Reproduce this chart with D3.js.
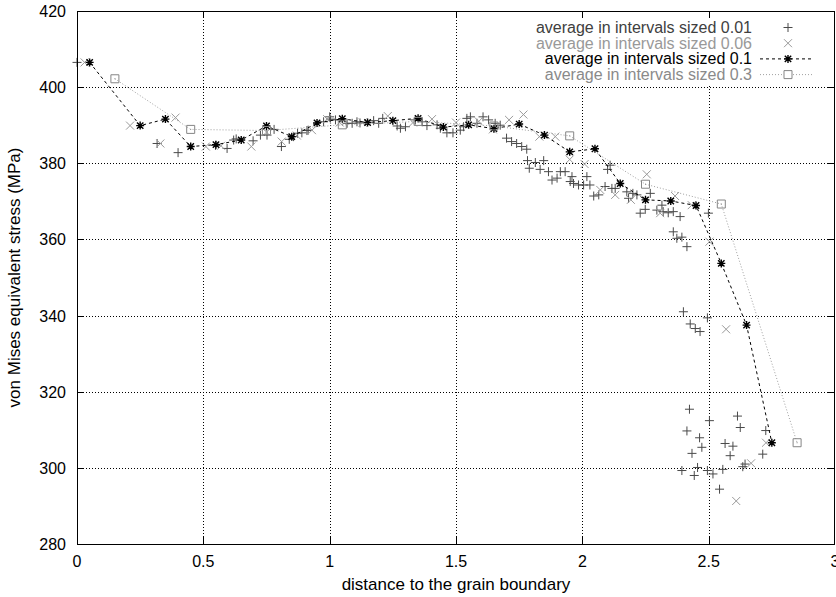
<!DOCTYPE html>
<html>
<head>
<meta charset="utf-8">
<script src="https://cdn.jsdelivr.net/npm/d3@7"></script>
<style>
  body { margin: 0; background: #fff; }
  text { font-family: "Liberation Sans", Arial, Helvetica, sans-serif; }
</style>
</head>
<body>
<div id="chart"></div>
<script>
const X_TICKS = [0, 0.5, 1, 1.5, 2, 2.5, 3];
const Y_TICKS = [280, 300, 320, 340, 360, 380, 400, 420];
const X_LABEL = "distance to the grain boundary";
const Y_LABEL = "von Mises equivalent stress (MPa)";
const SERIES_LABELS = [
  "average in intervals sized 0.01",
  "average in intervals sized 0.06",
  "average in intervals sized 0.1",
  "average in intervals sized 0.3"
];

// [distance, stress]
const PTS_001 = [
  [0.00,406.5],[0.317,385.2],[0.40,382.8],[0.548,384.7],[0.594,383.9],[0.62,386.1],[0.63,386.4],
  [0.697,385.9],[0.726,387.4],[0.752,387.4],[0.78,388.9],[0.809,384.4],[0.84,386.3],[0.857,387.0],
  [0.873,387.9],[0.89,388.0],[0.91,388.6],[0.915,388.7],[0.976,390.9],[1.0,392.2],[1.003,391.6],
  [1.023,391.4],[1.069,390.5],[1.089,390.5],[1.108,390.9],[1.12,390.6],[1.174,391.2],[1.194,390.5],
  [1.21,391.8],[1.267,389.8],[1.28,389.2],[1.30,389.6],[1.339,391.4],[1.366,390.9],[1.385,389.9],
  [1.425,390.1],[1.438,389.2],[1.464,388.0],[1.488,388.0],[1.517,388.7],[1.53,389.6],[1.543,391.8],
  [1.557,392.2],[1.583,390.5],[1.607,392.2],[1.629,391.4],[1.655,390.5],[1.675,390.0],
  [1.70,386.6],[1.72,385.7],[1.74,385.2],[1.76,384.4],[1.78,383.7],[1.783,380.7],[1.79,378.7],
  [1.814,380.2],[1.833,378.4],[1.847,380.7],[1.866,377.8],[1.88,375.6],[1.90,376.1],[1.913,377.8],
  [1.932,377.8],[1.952,375.2],[1.959,376.5],[1.965,374.7],[1.985,374.3],[2.005,374.3],[2.018,376.5],
  [2.03,374.3],[2.045,371.4],[2.065,371.7],[2.09,373.9],[2.10,378.4],[2.11,379.5],[2.117,373.4],
  [2.13,373.4],[2.176,372.5],[2.183,370.8],[2.20,372.1],[2.216,371.7],[2.229,366.9],[2.249,367.9],
  [2.269,372.1],[2.295,367.7],[2.315,369.0],[2.32,367.3],[2.34,367.0],[2.36,367.3],[2.36,362.0],
  [2.374,360.3],[2.387,366.0],[2.394,360.6],[2.414,358.1],[2.40,341.0],[2.427,337.8],[2.447,336.6],
  [2.466,335.8],[2.495,339.4],[2.499,366.9],
  [2.394,299.3],[2.414,309.7],[2.424,315.4],[2.434,303.8],[2.443,298.0],[2.456,300.1],[2.464,307.9],
  [2.473,305.4],[2.495,299.3],[2.503,312.4],[2.517,298.4],[2.543,294.4],[2.556,299.6],[2.565,306.4],
  [2.585,303.2],[2.596,305.7],[2.614,313.6],[2.625,310.6],[2.635,300.3],[2.644,301.0],[2.714,303.6],
  [2.726,309.8]
];

const PTS_006 = [
  [0.03,406.5],[0.21,389.9],[0.33,385.2],[0.39,392.0],[0.51,384.4],[0.57,384.6],[0.69,384.4],
  [0.75,388.2],[0.81,385.7],[0.87,387.3],[0.93,388.7],[0.99,391.6],[1.04,390.7],[1.13,390.7],
  [1.23,392.4],[1.33,390.7],[1.405,391.6],[1.50,390.7],[1.59,391.0],[1.646,388.9],[1.71,391.4],
  [1.767,392.8],[1.83,387.0],[1.893,387.0],[1.95,381.0],[2.009,379.8],[2.071,373.0],[2.13,371.7],
  [2.192,370.4],[2.255,377.1],[2.308,366.9],[2.367,371.4],[2.433,369.0],[2.503,359.4],[2.569,336.4],
  [2.609,291.3],[2.668,301.2],[2.727,306.6]
];

const PTS_01 = [
  [0.05,406.5],[0.25,389.9],[0.35,391.6],[0.45,384.4],[0.55,384.9],[0.65,386.1],[0.75,389.8],
  [0.85,387.0],[0.95,390.6],[1.05,391.7],[1.15,390.7],[1.25,391.2],[1.35,391.8],[1.45,389.5],
  [1.55,390.1],[1.65,389.1],[1.75,390.3],[1.85,387.4],[1.95,383.0],[2.05,383.8],[2.15,374.7],
  [2.25,370.4],[2.35,370.1],[2.45,368.9],[2.55,353.7],[2.65,337.5],[2.75,306.6]
];

const PTS_03 = [
  [0.15,402.2],[0.45,388.9],[0.75,388.6],[1.05,390.1],[1.35,391.0],[1.65,389.8],[1.95,387.2],
  [2.25,374.5],[2.55,369.3],[2.85,306.6]
];

const COL_001 = "#4a4a4a";
const COL_006 = "#9a9a9a";
const COL_01  = "#000000";
const COL_03  = "#858585";

const W = 836, H = 597;
const MARGIN = { top: 11, right: 1, bottom: 53, left: 77 };
const innerW = W - MARGIN.left - MARGIN.right;
const innerH = H - MARGIN.top - MARGIN.bottom;

const svg = d3.select("#chart").append("svg")
  .attr("width", W)
  .attr("height", H);

const g = svg.append("g")
  .attr("transform", `translate(${MARGIN.left},${MARGIN.top})`);

const x = d3.scaleLinear().domain([0, 3]).range([0, innerW]);
const y = d3.scaleLinear().domain([280, 420]).range([innerH, 0]);

// grid
const grid = g.append("g").attr("class", "grid")
  .attr("stroke", "#000")
  .attr("stroke-width", 1)
  .attr("stroke-dasharray", "1,2");
X_TICKS.slice(1, -1).forEach(t => {
  grid.append("line")
    .attr("x1", Math.round(x(t)) + 0.5).attr("x2", Math.round(x(t)) + 0.5)
    .attr("y1", 0).attr("y2", innerH);
});
Y_TICKS.slice(1, -1).forEach(t => {
  grid.append("line")
    .attr("x1", 0).attr("x2", innerW)
    .attr("y1", Math.round(y(t)) + 0.5).attr("y2", Math.round(y(t)) + 0.5);
});

// symbols
function plusPath(cx, cy, r) {
  return `M${cx - r},${cy}H${cx + r}M${cx},${cy - r}V${cy + r}`;
}
function crossPath(cx, cy, r) {
  return `M${cx - r},${cy - r}L${cx + r},${cy + r}M${cx - r},${cy + r}L${cx + r},${cy - r}`;
}
function starPath(cx, cy, r) {
  return plusPath(cx, cy, r) + crossPath(cx, cy, r * 0.8);
}
function squarePath(cx, cy, r) {
  return `M${cx - r},${cy - r}H${cx + r}V${cy + r}H${cx - r}Z`;
}

function drawPoints(parent, pts, pathFn, r, color, width) {
  parent.append("g")
    .selectAll("path")
    .data(pts)
    .join("path")
    .attr("d", d => pathFn(x(d[0]), y(d[1]), r))
    .attr("fill", "none")
    .attr("stroke", color)
    .attr("stroke-width", width);
}

function drawLine(parent, pts, color, dash, width) {
  parent.append("path")
    .datum(pts)
    .attr("d", d3.line().x(d => x(d[0])).y(d => y(d[1])))
    .attr("fill", "none")
    .attr("stroke", color)
    .attr("stroke-width", width)
    .attr("stroke-dasharray", dash);
}

const plot = g.append("g");
drawPoints(plot, PTS_001, plusPath, 4.5, COL_001, 1);
drawPoints(plot, PTS_006, crossPath, 4, COL_006, 1);
drawLine(plot, PTS_01, COL_01, "3,3", 1);
drawPoints(plot, PTS_01, starPath, 4, COL_01, 1.4);
drawLine(plot, PTS_03, "#a0a0a0", "1,2", 1);
drawPoints(plot, PTS_03, squarePath, 4, COL_03, 1);
plot.selectAll(".sq-dot")
  .data(PTS_03)
  .join("rect")
  .attr("x", d => x(d[0]) - 0.5).attr("y", d => y(d[1]) - 0.5)
  .attr("width", 1).attr("height", 1)
  .attr("fill", COL_03);

// legend
const legend = g.append("g").attr("class", "legend");
legend.append("rect")
  .attr("x", 447).attr("y", 0)
  .attr("width", innerW - 447).attr("height", 75)
  .attr("fill", "#fff");

const LEG_STYLE = [
  { color: COL_001, sym: plusPath, line: null, w: 1 },
  { color: COL_006, sym: crossPath, line: null, w: 1 },
  { color: COL_01, sym: starPath, line: "3,3", w: 1.4 },
  { color: COL_03, sym: squarePath, line: "1,2", w: 1 }
];
const LEG_TEXT_COL = ["#404040", "#999999", "#000000", "#8a8a8a"];

SERIES_LABELS.forEach((lab, i) => {
  const base = 22 + i * 15.7;
  const cy = base - 5.5;
  const st = LEG_STYLE[i];
  legend.append("text")
    .attr("x", 675).attr("y", base)
    .attr("text-anchor", "end")
    .attr("font-size", "16px")
    .attr("fill", LEG_TEXT_COL[i])
    .text(lab);
  if (st.line) {
    legend.append("line")
      .attr("x1", 683).attr("x2", 737)
      .attr("y1", cy).attr("y2", cy)
      .attr("stroke", i === 3 ? "#a0a0a0" : st.color)
      .attr("stroke-width", 1)
      .attr("stroke-dasharray", st.line);
  }
  legend.append("path")
    .attr("d", st.sym(711, cy, i === 0 ? 4.5 : 4))
    .attr("fill", i === 3 ? "#fff" : "none")
    .attr("stroke", st.color)
    .attr("stroke-width", st.w);
});

// frame and ticks
const axes = g.append("g").attr("stroke", "#000").attr("stroke-width", 1);
axes.append("rect")
  .attr("x", 0.5).attr("y", 0.5)
  .attr("width", innerW - 1).attr("height", innerH)
  .attr("fill", "none");
X_TICKS.slice(1, -1).forEach(t => {
  const px = Math.round(x(t)) + 0.5;
  axes.append("line").attr("x1", px).attr("x2", px).attr("y1", innerH).attr("y2", innerH - 7);
  axes.append("line").attr("x1", px).attr("x2", px).attr("y1", 0).attr("y2", 7);
});
Y_TICKS.slice(1, -1).forEach(t => {
  const py = Math.round(y(t)) + 0.5;
  axes.append("line").attr("x1", 0).attr("x2", 7).attr("y1", py).attr("y2", py);
  axes.append("line").attr("x1", innerW).attr("x2", innerW - 7).attr("y1", py).attr("y2", py);
});

// tick labels
const fmt = d3.format("");
g.append("g").selectAll("text")
  .data(X_TICKS)
  .join("text")
  .attr("x", d => x(d))
  .attr("y", innerH + 23)
  .attr("text-anchor", "middle")
  .attr("font-size", "16px")
  .attr("fill", "#000")
  .text(d => fmt(d));

g.append("g").selectAll("text")
  .data(Y_TICKS)
  .join("text")
  .attr("x", -11)
  .attr("y", d => y(d) + 6)
  .attr("text-anchor", "end")
  .attr("font-size", "16px")
  .attr("fill", "#000")
  .text(d => d);

// axis titles
svg.append("text")
  .attr("x", MARGIN.left + innerW / 2)
  .attr("y", 590)
  .attr("text-anchor", "middle")
  .attr("font-size", "17px")
  .attr("fill", "#000")
  .text(X_LABEL);

svg.append("text")
  .attr("transform", `translate(20,${MARGIN.top + innerH / 2}) rotate(-90)`)
  .attr("text-anchor", "middle")
  .attr("font-size", "17px")
  .attr("fill", "#000")
  .text(Y_LABEL);
</script>
</body>
</html>
